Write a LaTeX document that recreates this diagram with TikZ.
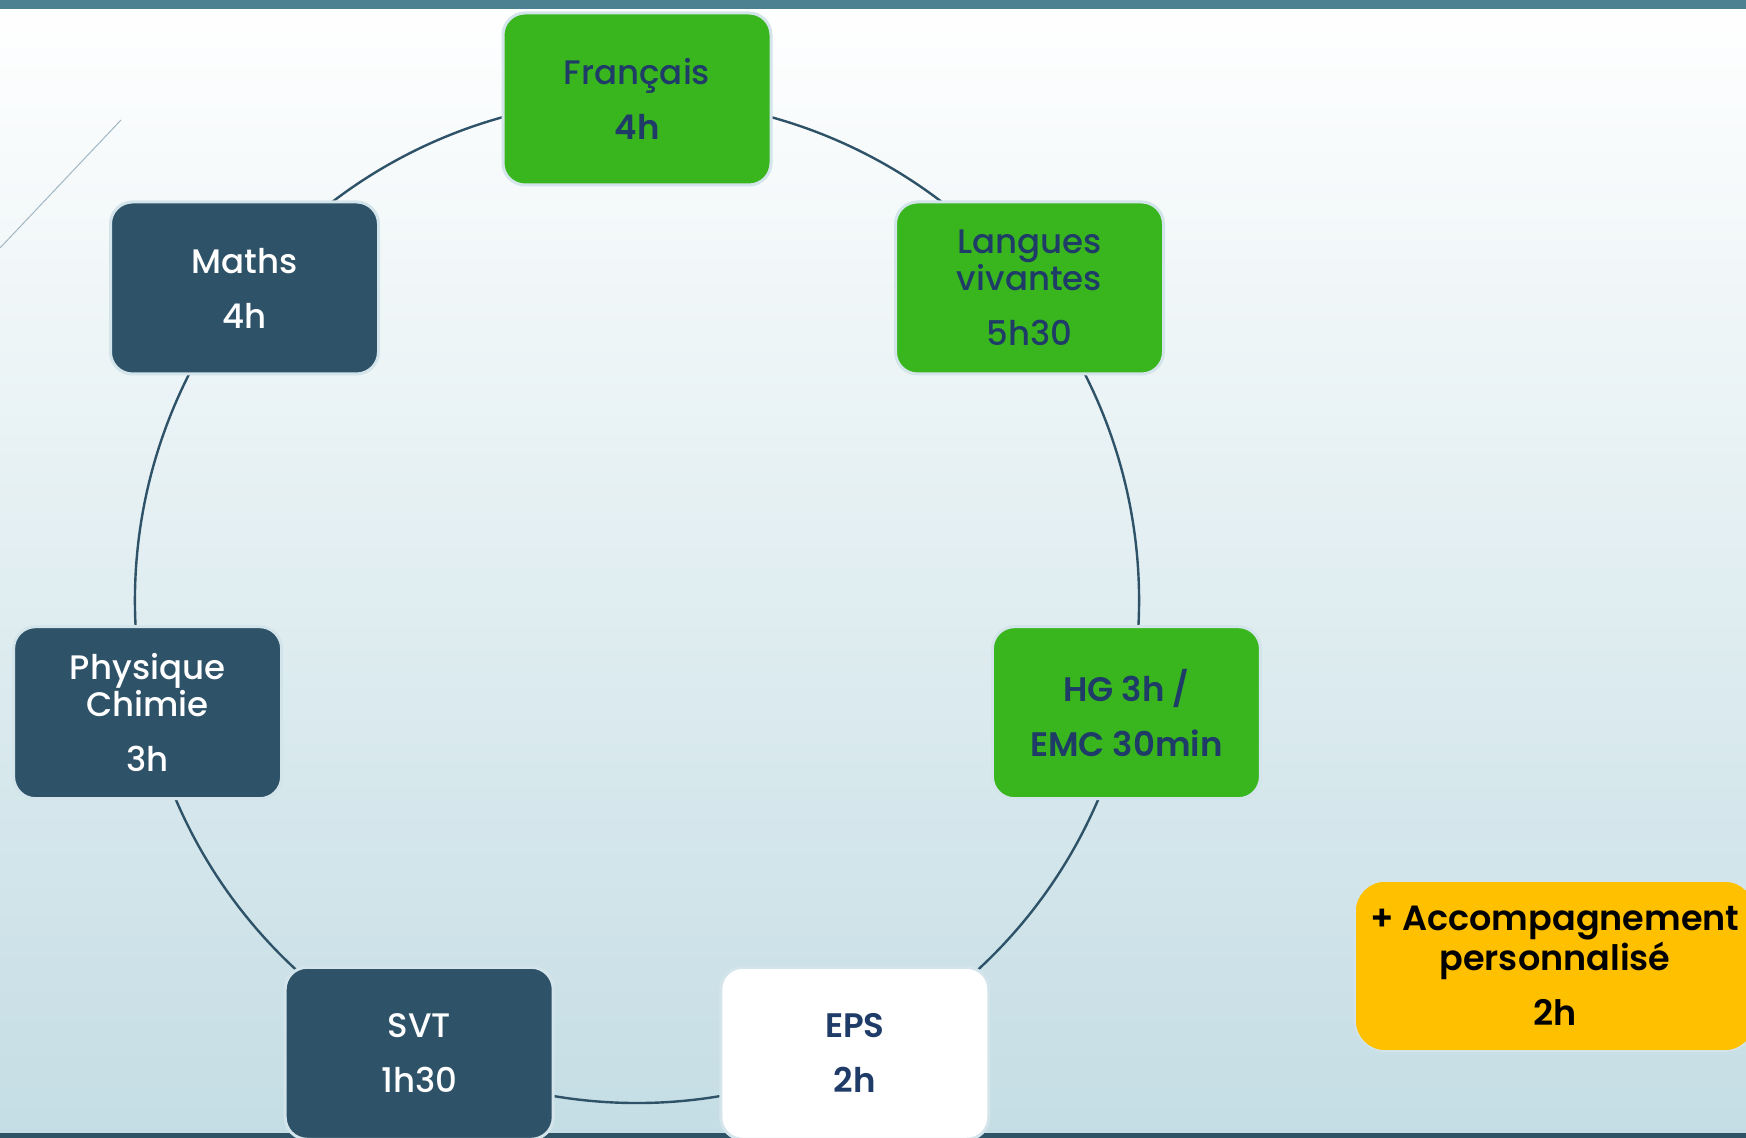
\documentclass[tikz,border=0pt]{standalone}
\usepackage{fontspec}
\setmainfont{Poppins}[UprightFont=* Medium, BoldFont=* SemiBold]
\usepackage{xcolor}
\usepackage{tikz}
\usetikzlibrary{backgrounds}

\definecolor{barteal}{HTML}{4B8191}
\definecolor{bardark}{HTML}{2E5266}
\definecolor{bgbot}{HTML}{C4DDE4}
\definecolor{boxgreen}{HTML}{39B61E}
\definecolor{boxdark}{HTML}{2E5268}
\definecolor{boxedge}{HTML}{D3E5EB}
\definecolor{textnavy}{HTML}{1F3B68}
\definecolor{boxorange}{HTML}{FFC000}
\definecolor{thinline}{HTML}{A3B7C2}

\begin{document}
\begin{tikzpicture}[x=50pt, y=50pt,
  subject/.style={draw=boxedge, line width=1.5pt, rounded corners=11pt,
    minimum width=134pt, minimum height=86pt, align=center,
    font=\fontsize{17}{18.5}\selectfont},
  greenbox/.style={subject, fill=boxgreen, text=textnavy},
  darkbox/.style={subject, fill=boxdark, text=white},
  whitebox/.style={subject, fill=white, text=textnavy},
  ring/.style={draw=boxdark, line width=1.2pt, bend left=25.71, looseness=0.9}]
\useasboundingbox (0, 0) rectangle (17.46, 11.38);
\begin{scope}[on background layer]
\shade[top color=white, bottom color=bgbot] (0, 0) rectangle (17.46, 11.38);
\fill[barteal] (0, 11.29) rectangle (17.46, 11.38);
\fill[bardark] (0, 0) rectangle (17.46, 0.05);
\draw[thinline, line width=0.5pt] (0, 8.90) -- (1.21, 10.18);
\end{scope}

\node[greenbox] (fr) at (6.370, 10.390) {Français\\[9pt]\textbf{4h}};
\node[greenbox] (lv) at (10.295, 8.500) {Langues\\vivantes\\[9pt]5h30};
\node[greenbox] (hg) at (11.264, 4.253) {\textbf{HG 3h /}\\[9pt]\textbf{EMC 30min}};
\node[whitebox] (eps) at (8.548, 0.847) {\textbf{EPS}\\[9pt]\textbf{2h}};
\node[darkbox] (svt) at (4.192, 0.847) {SVT\\[9pt]1h30};
\node[darkbox] (pc) at (1.476, 4.253) {Physique\\Chimie\\[9pt]3h};
\node[darkbox] (ma) at (2.445, 8.500) {Maths\\[9pt]4h};

\begin{scope}[on background layer]
\draw[ring] (fr.center) to (lv.center);
\draw[ring] (lv.center) to (hg.center);
\draw[ring] (hg.center) to (eps.center);
\draw[ring] (eps.center) to (svt.center);
\draw[ring] (svt.center) to (pc.center);
\draw[ring] (pc.center) to (ma.center);
\draw[ring] (ma.center) to (fr.center);
\end{scope}

\node[draw=boxedge, line width=0.8pt, fill=boxorange, rounded corners=15pt,
  minimum width=200pt, minimum height=85pt, align=center,
  font=\fontsize{17.5}{18.5}\selectfont\bfseries] (ap) at (15.55, 1.72)
  {+ Accompagnement\\personnalisé\\[9pt]2h};
\end{tikzpicture}
\end{document}
